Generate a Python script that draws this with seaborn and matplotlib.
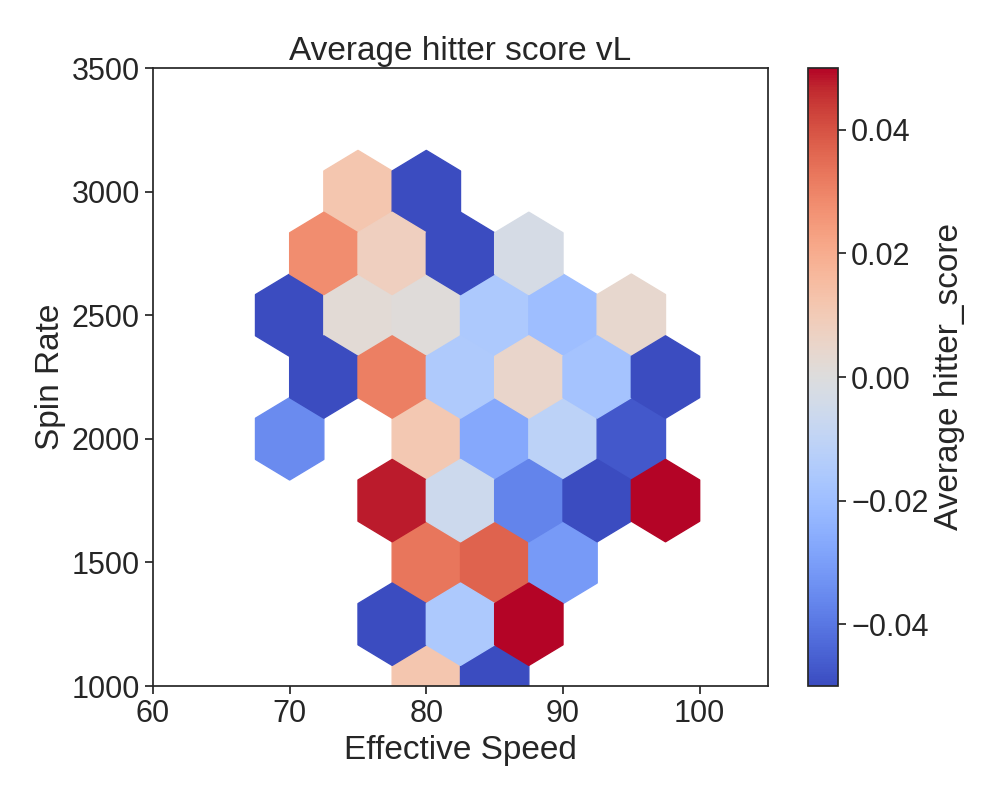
import numpy as np
import pandas as pd
import matplotlib
matplotlib.use("Agg")
import matplotlib.pyplot as plt
import seaborn as sns

# Hex-cell centres (effective speed, spin rate) and average hitter score per cell
speed = [75, 80,
         72.5, 77.5, 82.5, 87.5,
         70, 75, 80, 85, 90, 95,
         72.5, 77.5, 82.5, 87.5, 92.5, 97.5,
         70, 80, 85, 90, 95,
         77.5, 82.5, 87.5, 92.5, 97.5,
         80, 85, 90,
         77.5, 82.5, 87.5,
         80, 85]
spin = [3000, 3000,
        2750, 2750, 2750, 2750,
        2500, 2500, 2500, 2500, 2500, 2500,
        2250, 2250, 2250, 2250, 2250, 2250,
        2000, 2000, 2000, 2000, 2000,
        1750, 1750, 1750, 1750, 1750,
        1500, 1500, 1500,
        1250, 1250, 1250,
        1000, 1000]
score = [0.012, -0.055,
         0.028, 0.008, -0.055, -0.003,
         -0.055, 0.002, 0.001, -0.016, -0.020, 0.004,
         -0.055, 0.031, -0.015, 0.005, -0.018, -0.055,
         -0.035, 0.011, -0.027, -0.011, -0.047,
         0.048, -0.006, -0.037, -0.055, 0.055,
         0.033, 0.037, -0.031,
         -0.055, -0.016, 0.055,
         0.012, -0.055]

df = pd.DataFrame({"Effective Speed": speed, "Spin Rate": spin, "hitter_score": score})

sns.set_theme(style="ticks", font_scale=2)
plt.rcParams["font.family"] = ["Liberation Sans", "DejaVu Sans"]

fig = plt.figure(figsize=(10, 8), dpi=100)
ax = fig.add_axes([0.153, 0.1425, 0.615, 0.7725])
cax = fig.add_axes([0.808, 0.1425, 0.030, 0.7725])

hb = ax.hexbin(df["Effective Speed"], df["Spin Rate"], C=df["hitter_score"],
               gridsize=(9, 5), extent=(60, 105, 1000, 3500),
               reduce_C_function=np.mean, cmap="coolwarm",
               vmin=-0.05, vmax=0.05)
ax.set_xlim(60, 105)
ax.set_ylim(1000, 3500)
ax.set_xticks([60, 70, 80, 90, 100])
ax.set_yticks([1000, 1500, 2000, 2500, 3000, 3500])
ax.set_xlabel("Effective Speed")
ax.set_ylabel("Spin Rate")
ax.set_title("Average hitter score vL")

cb = fig.colorbar(hb, cax=cax)
cb.set_ticks([-0.04, -0.02, 0.0, 0.02, 0.04])
cb.set_label("Average hitter_score")

fig.savefig("out.png", dpi=100)
